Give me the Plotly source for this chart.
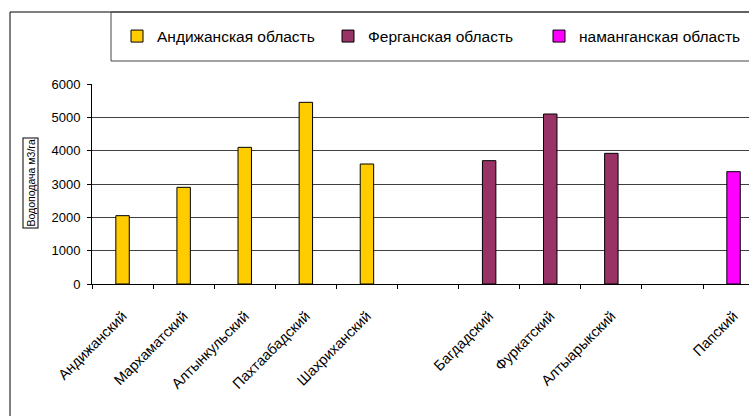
import plotly.graph_objects as go

# Districts on the category axis (blank slots separate the regions)
districts = ["Андижанский", "Мархаматский", "Алтынкульский", "Пахтаабадский",
             "Шахриханский", " ", "Багдадский", "Фуркатский", "Алтыарыкский",
             "  ", "Папский"]

andijan_districts = ["Андижанский", "Мархаматский", "Алтынкульский",
                     "Пахтаабадский", "Шахриханский"]
andijan_values = [2050, 2900, 4100, 5450, 3600]

fergana_districts = ["Багдадский", "Фуркатский", "Алтыарыкский"]
fergana_values = [3700, 5100, 3920]

namangan_districts = ["Папский"]
namangan_values = [3370]

series_names = ["Андижанская область", "Ферганская область", "наманганская область"]
series_colors = ["#FFCC00", "#993366", "#FF00FF"]

y_ticks = [0, 1000, 2000, 3000, 4000, 5000, 6000]
y_title = "Водоподача м3/га"

FONT = "Arial, Liberation Sans, sans-serif"
W, H = 749, 416
L, T, B = 92, 84, 132
PW, PH = W - L, H - T - B
slot = 61.1  # px per category


def px(x):
    return (x - L) / PW


def py(y):
    return (H - B - y) / PH


fig = go.Figure()
for name, color, xs, ys in zip(
        series_names, series_colors,
        [andijan_districts, fergana_districts, namangan_districts],
        [andijan_values, fergana_values, namangan_values]):
    fig.add_trace(go.Bar(
        x=xs, y=ys, name=name, width=0.22,
        marker=dict(color=color, line=dict(color="black", width=1)),
    ))

fig.update_layout(
    width=W, height=H,
    margin=dict(l=L, r=0, t=T, b=B, autoexpand=False),
    paper_bgcolor="white", plot_bgcolor="white",
    barmode="overlay",
    font=dict(family=FONT, size=13, color="black"),
    showlegend=True,
    legend=dict(
        orientation="h", x=px(117), xanchor="left", y=py(36.5), yanchor="middle",
        font=dict(size=15.5), bgcolor="rgba(0,0,0,0)", itemwidth=30,
        entrywidth=166, entrywidthmode="pixels",
        traceorder="normal",
    ),
    xaxis=dict(
        type="category", categoryorder="array", categoryarray=districts,
        range=[-0.5, -0.5 + PW / slot],
        tickson="boundaries", ticks="outside", ticklen=4, tickcolor="black",
        showline=True, linecolor="black", linewidth=1,
        tickangle=-45, tickfont=dict(size=14.5), ticklabelstandoff=17,
        showgrid=False, zeroline=False,
    ),
    yaxis=dict(
        range=[0, 6000], tickvals=y_ticks, ticks="outside", ticklen=4,
        tickcolor="black", showline=True, linecolor="black", linewidth=1,
        showgrid=True, gridcolor="#404040", gridwidth=1,
        zeroline=False, tickfont=dict(size=13), ticklabelstandoff=4,
    ),
    shapes=[
        # outer chart frame
        dict(type="rect", xref="paper", yref="paper",
             x0=px(10), x1=px(W + 20), y0=py(H + 20), y1=py(12),
             line=dict(color="black", width=1), fillcolor="rgba(0,0,0,0)",
             layer="above"),
        # legend frame
        dict(type="rect", xref="paper", yref="paper",
             x0=px(111), x1=px(W + 20), y0=py(61), y1=py(12),
             line=dict(color="#444444", width=1), fillcolor="rgba(0,0,0,0)",
             layer="above"),
    ],
    annotations=[
        dict(text=y_title, xref="paper", yref="paper",
             x=px(30), y=py(183.5), xanchor="center", yanchor="middle",
             textangle=-90, showarrow=False, font=dict(size=10.5),
             bordercolor="black", borderwidth=1, borderpad=1, bgcolor="white"),
    ],
)

fig.write_html("out.html")
